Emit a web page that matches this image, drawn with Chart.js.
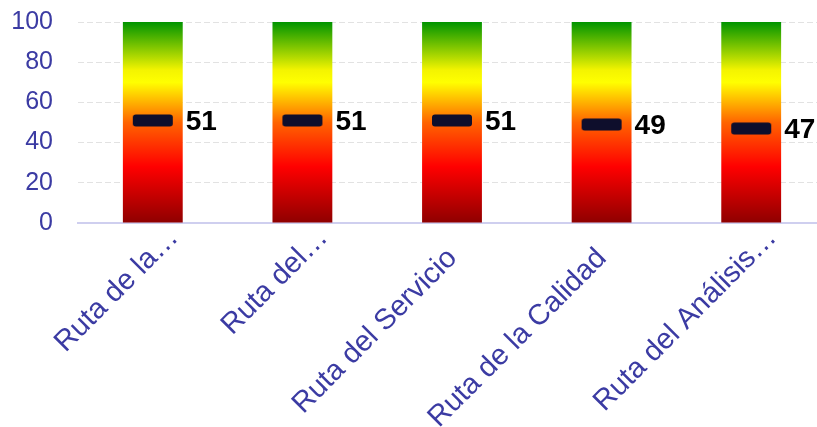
<!DOCTYPE html>
<html lang="es">
<head>
  <meta charset="UTF-8">
  <title>Rutas</title>
  <script src="https://cdn.jsdelivr.net/npm/chart.js"></script>
  <style>
    html, body { margin: 0; padding: 0; overflow: hidden; background: #fff; }
    canvas { display: block; }
  </style>
</head>
<body>
  <canvas id="rutasChart" width="837" height="427"></canvas>

<script>
  const categories = ['Ruta de la…', 'Ruta del…', 'Ruta del Servicio', 'Ruta de la Calidad', 'Ruta del Análisis…'];
  const scaleMax = [100, 100, 100, 100, 100];
  const scores = [51, 51, 51, 49, 47];
  const yTicks = [0, 20, 40, 60, 80, 100];

  const axisBlue = '#3b3ba3';
  const fontFamily = '"Liberation Sans", Arial, sans-serif';

  // rounded dash used as the score marker
  function makeMarker() {
    const c = document.createElement('canvas');
    c.width = 42; c.height = 13;
    const g = c.getContext('2d');
    g.fillStyle = '#0e0e2c';
    g.beginPath();
    g.roundRect(1, 0.5, 40, 12, 3);
    g.fill();
    return c;
  }

  function barGradient(context) {
    const area = context.chart.chartArea;
    if (!area) return '#ff0000';
    const y = context.chart.scales.y;
    const g = context.chart.ctx.createLinearGradient(0, y.getPixelForValue(0), 0, y.getPixelForValue(100));
    g.addColorStop(0, '#8e0000');
    g.addColorStop(0.28, '#ff0000');
    g.addColorStop(0.5, '#ff6400');
    g.addColorStop(0.7, '#ffff00');
    g.addColorStop(0.76, '#f4f400');
    g.addColorStop(1, '#009400');
    return g;
  }

  // score text to the right of each marker
  const scoreLabels = {
    id: 'scoreLabels',
    afterDatasetsDraw(chart) {
      const meta = chart.getDatasetMeta(1);
      const ctx = chart.ctx;
      ctx.save();
      ctx.fillStyle = '#000';
      ctx.font = 'bold 28px ' + fontFamily;
      ctx.textAlign = 'left';
      ctx.textBaseline = 'middle';
      meta.data.forEach((pt, i) => {
        ctx.fillText(scores[i], pt.x + 33, pt.y + 2);
      });
      ctx.restore();
    }
  };

  new Chart(document.getElementById('rutasChart'), {
    data: {
      labels: categories,
      datasets: [
        {
          type: 'bar',
          data: scaleMax,
          backgroundColor: barGradient,
          barPercentage: 0.4,
          categoryPercentage: 1,
          order: 2
        },
        {
          type: 'line',
          data: scores,
          showLine: false,
          pointStyle: makeMarker(),
          pointRadius: 10,
          order: 1
        }
      ]
    },
    options: {
      responsive: false,
      animation: false,
      layout: { padding: { left: 0, top: 22, right: 0, bottom: 0 } },
      plugins: { legend: { display: false }, tooltip: { enabled: false } },
      scales: {
        x: {
          grid: { display: false, drawTicks: false },
          border: { color: '#cfcfef', width: 2 },
          ticks: {
            color: axisBlue,
            font: { family: fontFamily, size: 29 },
            maxRotation: 45,
            minRotation: 45,
            autoSkip: false,
            labelOffset: 21,
            padding: -2,
            // full names get a trailing em space so they sit like the clipped ones
            callback: function (value) {
              const name = this.getLabelForValue(value);
              return name.endsWith('…') ? name : name + '\u2003';
            }
          },
          // rotated labels may run past the plot edge
          afterFit: axis => { axis.paddingLeft = 0; axis.paddingRight = 0; axis.height = 204; }
        },
        y: {
          min: 0,
          max: 100,
          afterBuildTicks: axis => { axis.ticks = yTicks.map(v => ({ value: v })); },
          afterFit: axis => { axis.paddingTop = 0; axis.width = 78; },
          grid: { color: '#e2e2e2', drawTicks: false },
          border: { display: false, dash: [6, 3] },
          ticks: {
            color: axisBlue,
            font: { family: fontFamily, size: 25 },
            padding: 25
          }
        }
      }
    },
    plugins: [scoreLabels]
  });
</script>
</body>
</html>
